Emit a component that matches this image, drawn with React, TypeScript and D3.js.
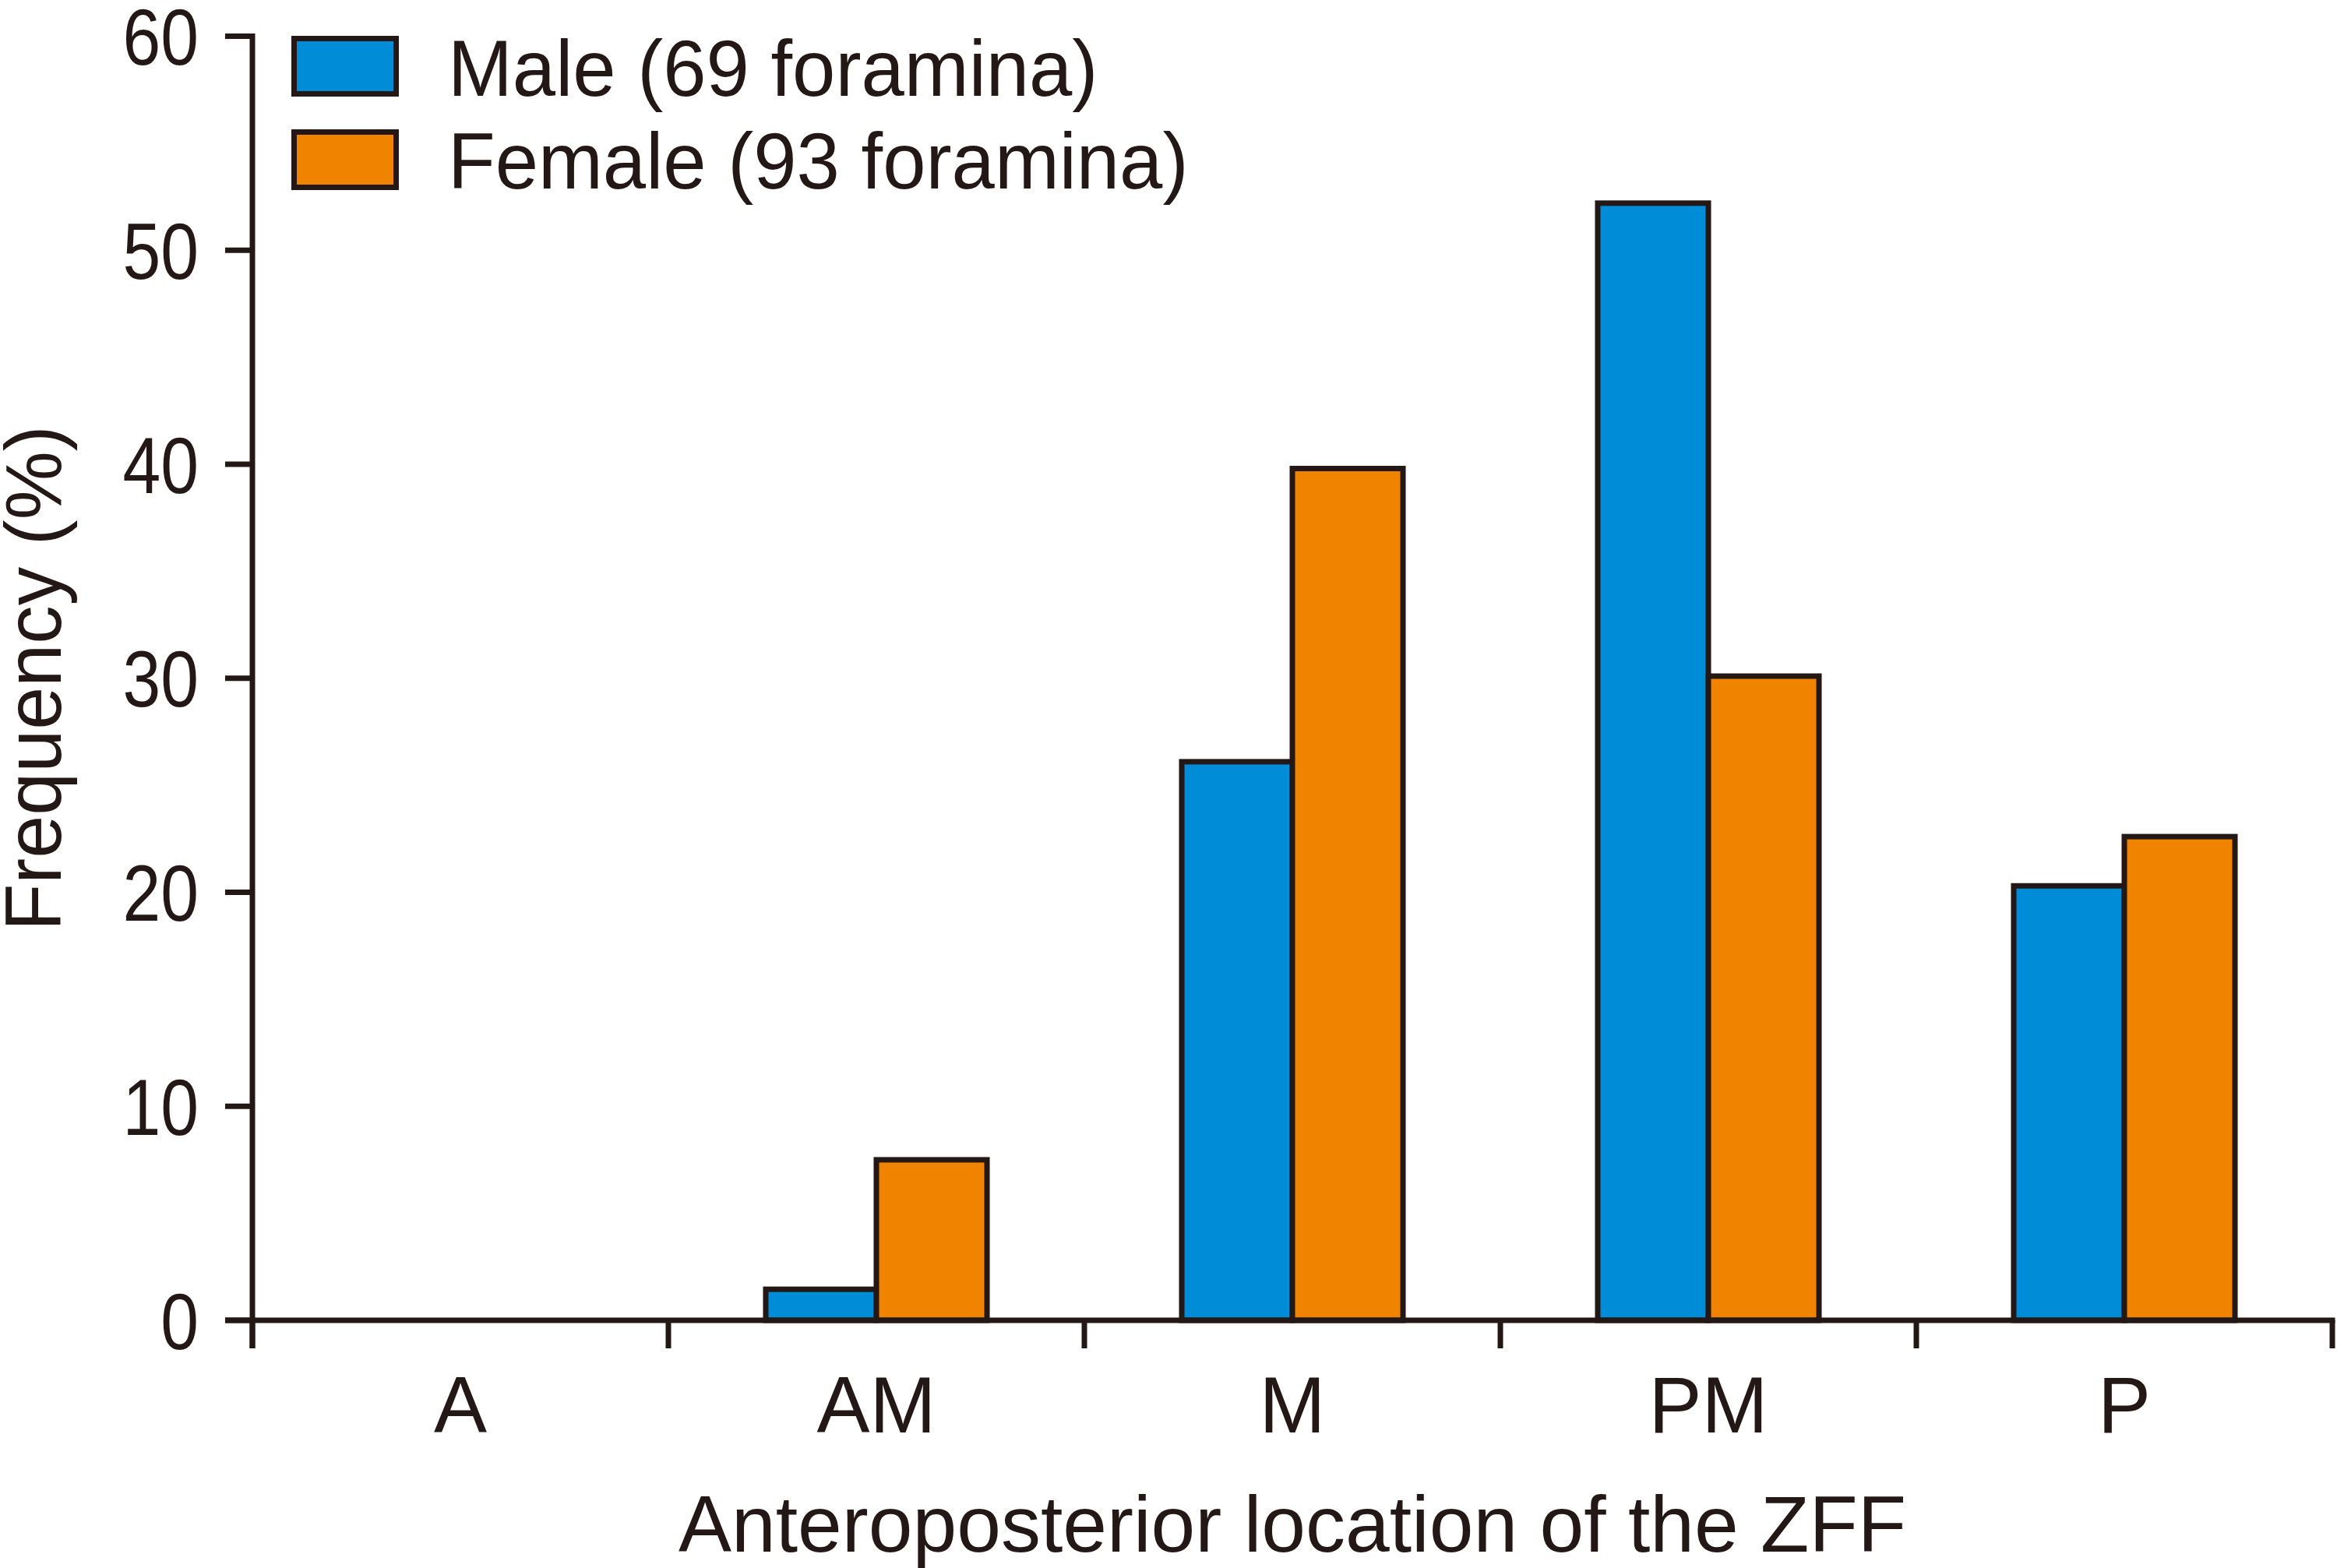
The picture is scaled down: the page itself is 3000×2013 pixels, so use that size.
import React from "react";
import * as d3 from "d3";

const categories = ["A", "AM", "M", "PM", "P"];
const seriesNames = ["Male (69 foramina)", "Female (93 foramina)"];
const maleValues = [0, 1.45, 26.1, 52.2, 20.3];
const femaleValues = [0, 7.5, 39.8, 30.1, 22.6];
const yTickValues = [0, 10, 20, 30, 40, 50, 60];
const seriesColors = ["#008CD6", "#F08300"];

const W = 3000;
const H = 2013;
const INK = "#231815";
const FONT = "'Liberation Sans', Arial, Helvetica, sans-serif";
const FS = 102;
const SW = 7;

export default function App() {
  const x0 = 324;
  const x1 = 2994;
  const yBottom = 1695;
  const yTop = 46.5;

  const x = d3.scaleBand<string>().domain(categories).range([x0, x1]).paddingInner(0).paddingOuter(0);
  const xs = d3.scaleBand<string>().domain(["male", "female"]).range([0, x.bandwidth()]).paddingInner(0).paddingOuter(0.88);
  const y = d3.scaleLinear().domain([0, 60]).range([yBottom, yTop]);

  const series = [
    { key: "male", values: maleValues, color: seriesColors[0] },
    { key: "female", values: femaleValues, color: seriesColors[1] },
  ];

  const catTicks = [...categories.map((c) => x(c) as number), x1];

  return (
    <svg width={W} height={H} style={{ position: "absolute", left: 0, top: 0, display: "block", background: "#fff" }}>
      <rect x={0} y={0} width={W} height={H} fill="#fff" />
      {/* bars */}
      {series.map((s) =>
        s.values.map((v, i) =>
          v > 0 ? (
            <rect
              key={s.key + i}
              x={(x(categories[i]) as number) + (xs(s.key) as number)}
              y={y(v)}
              width={xs.bandwidth()}
              height={y(0) - y(v)}
              fill={s.color}
              stroke={INK}
              strokeWidth={SW}
            />
          ) : null
        )
      )}
      {/* y axis */}
      <line x1={x0} x2={x0} y1={yTop - SW / 2} y2={yBottom + 36} stroke={INK} strokeWidth={SW} />
      {yTickValues.map((t) => (
        <g key={"yt" + t}>
          <line x1={x0 - 35} x2={x0} y1={y(t)} y2={y(t)} stroke={INK} strokeWidth={SW} />
          <text
            transform={`translate(255, ${y(t) + 36.5}) scale(0.86, 1)`}
            textAnchor="end"
            fontFamily={FONT}
            fontSize={FS}
            fill={INK}
          >
            {t}
          </text>
        </g>
      ))}
      {/* x axis */}
      <line x1={x0 - 35} x2={x1 + SW / 2} y1={yBottom} y2={yBottom} stroke={INK} strokeWidth={SW} />
      {catTicks.map((t, i) => (
        <line key={"xt" + i} x1={t} x2={t} y1={yBottom} y2={yBottom + 36} stroke={INK} strokeWidth={SW} />
      ))}
      {categories.map((c) => (
        <text
          key={"xl" + c}
          x={(x(c) as number) + x.bandwidth() / 2}
          y={1839}
          textAnchor="middle"
          fontFamily={FONT}
          fontSize={FS}
          fill={INK}
        >
          {c}
        </text>
      ))}
      {/* axis titles */}
      <text x={(x0 + x1) / 2} y={1992} textAnchor="middle" fontFamily={FONT} fontSize={FS} fill={INK}>
        Anteroposterior location of the ZFF
      </text>
      <text
        transform={`translate(78, ${(yTop + yBottom) / 2}) rotate(-90) scale(0.97, 1)`}
        textAnchor="middle"
        fontFamily={FONT}
        fontSize={FS}
        fill={INK}
      >
        Frequency (%)
      </text>
      {/* legend */}
      {seriesNames.map((name, i) => (
        <g key={"lg" + i}>
          <rect x={377.5} y={49.5 + i * 120} width={131} height={71} fill={seriesColors[i]} stroke={INK} strokeWidth={SW} />
          <text
            transform={`translate(575, ${123 + i * 119}) scale(0.975, 1)`}
            fontFamily={FONT}
            fontSize={FS}
            fill={INK}
          >
            {name}
          </text>
        </g>
      ))}
    </svg>
  );
}
